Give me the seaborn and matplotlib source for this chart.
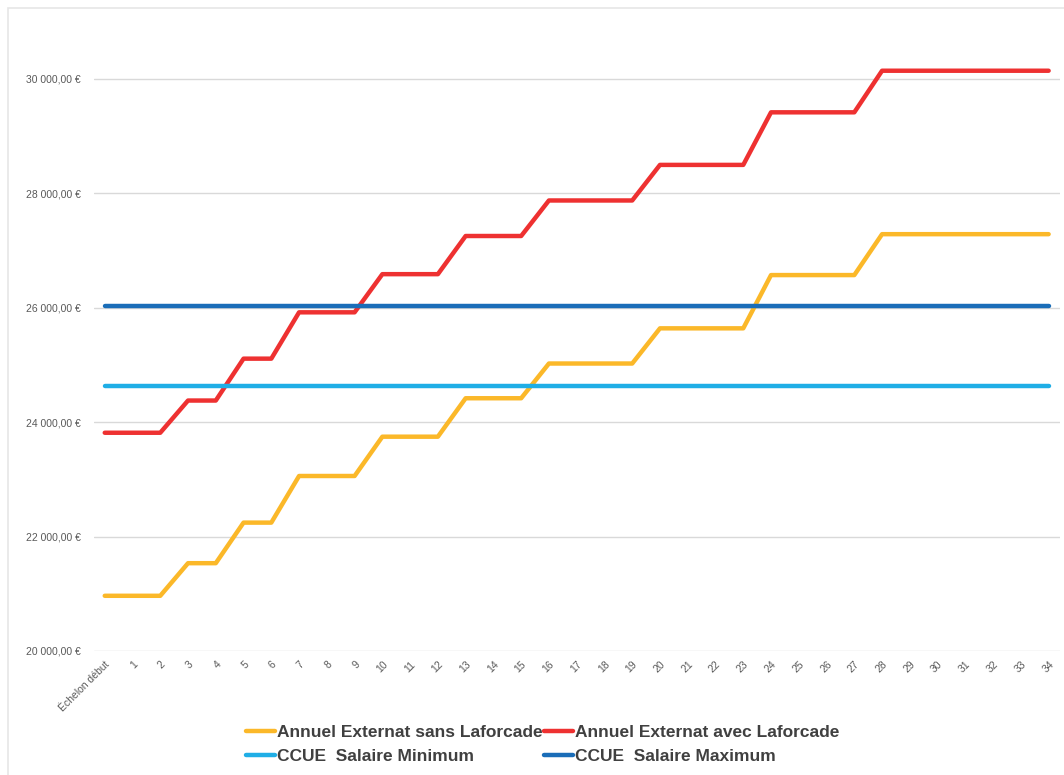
import matplotlib
matplotlib.use("Agg")
import matplotlib.pyplot as plt
import seaborn as sns
import numpy as np
from matplotlib.ticker import FuncFormatter
from matplotlib.patches import Rectangle

sns.set_theme(style="whitegrid")
plt.rcParams['font.family'] = ['Liberation Sans', 'DejaVu Sans']

echelons = ["Échelon début"] + [str(i) for i in range(1, 35)]

sans_laforcade = [20965, 20965, 20965, 21535, 21535, 22244, 22244, 23059, 23059, 23059,
                  23746, 23746, 23746, 24418, 24418, 24418, 25025, 25025, 25025, 25025,
                  25640, 25640, 25640, 25640, 26571, 26571, 26571, 26571, 27286, 27286,
                  27286, 27286, 27286, 27286, 27286]
avec_laforcade = [23815, 23815, 23815, 24378, 24378, 25110, 25110, 25920, 25920, 25920,
                  26587, 26587, 26587, 27254, 27254, 27254, 27875, 27875, 27875, 27875,
                  28497, 28497, 28497, 28497, 29416, 29416, 29416, 29416, 30143, 30143,
                  30143, 30143, 30143, 30143, 30143]
ccue_min = [24640] * len(echelons)
ccue_max = [26035] * len(echelons)

series_names = ["Annuel Externat sans Laforcade", "Annuel Externat avec Laforcade",
                "CCUE  Salaire Minimum", "CCUE  Salaire Maximum"]
series_values = [sans_laforcade, avec_laforcade, ccue_min, ccue_max]
colors = ["#FBB829", "#EE3131", "#1FAEE6", "#1A6DB8"]

fig = plt.figure(figsize=(10.64, 7.75), dpi=100)
# faint chart-area border
fig.add_artist(Rectangle((8 / 1064, -0.1), 1.2, 1.1 - 8 / 775, transform=fig.transFigure,
                         fill=False, edgecolor="#E6E6E6", linewidth=1.2))
ax = fig.add_axes([0.088, 0.16, 0.908, 0.812])

pos = np.arange(len(echelons))
for name, vals, col in zip(series_names, series_values, colors):
    sns.lineplot(x=pos, y=vals, ax=ax, color=col, linewidth=3.2, label=name,
                 solid_capstyle="round")

ax.set_xlim(-0.4, len(echelons) - 0.6)
ax.set_ylim(20000, 31000)
ax.set_yticks(np.arange(20000, 30001, 2000))
ax.yaxis.set_major_formatter(FuncFormatter(
    lambda v, p: f"{int(v):,}".replace(",", " ") + ",00 €"))
ax.set_xticks(pos)
ax.set_xticklabels(echelons, rotation=45, ha="right", rotation_mode="anchor")
ax.tick_params(axis="x", labelsize=7.5, colors="#595959", length=0, pad=6)
ax.tick_params(axis="y", labelsize=7.5, colors="#595959", length=0, pad=49)
for lbl in ax.get_yticklabels():
    lbl.set_horizontalalignment("left")
ax.grid(axis="x", visible=False)
ax.grid(axis="y", color="#D9D9D9", linewidth=1)
for s in ax.spines.values():
    s.set_visible(False)
ax.set_xlabel("")
ax.set_ylabel("")

handles, labels = ax.get_legend_handles_labels()
ax.get_legend().remove()
order = [0, 2, 1, 3]
leg = fig.legend([handles[i] for i in order], [labels[i] for i in order],
                 loc="center", bbox_to_anchor=(0.51, 0.039), ncol=2,
                 frameon=False, handlelength=1.7, handletextpad=0.1, columnspacing=0.05,
                 labelspacing=0.5, borderpad=0.2, prop={"weight": "bold", "size": 12.5})
for t in leg.get_texts():
    t.set_color("#404040")

fig.savefig("out.png", dpi=100)
